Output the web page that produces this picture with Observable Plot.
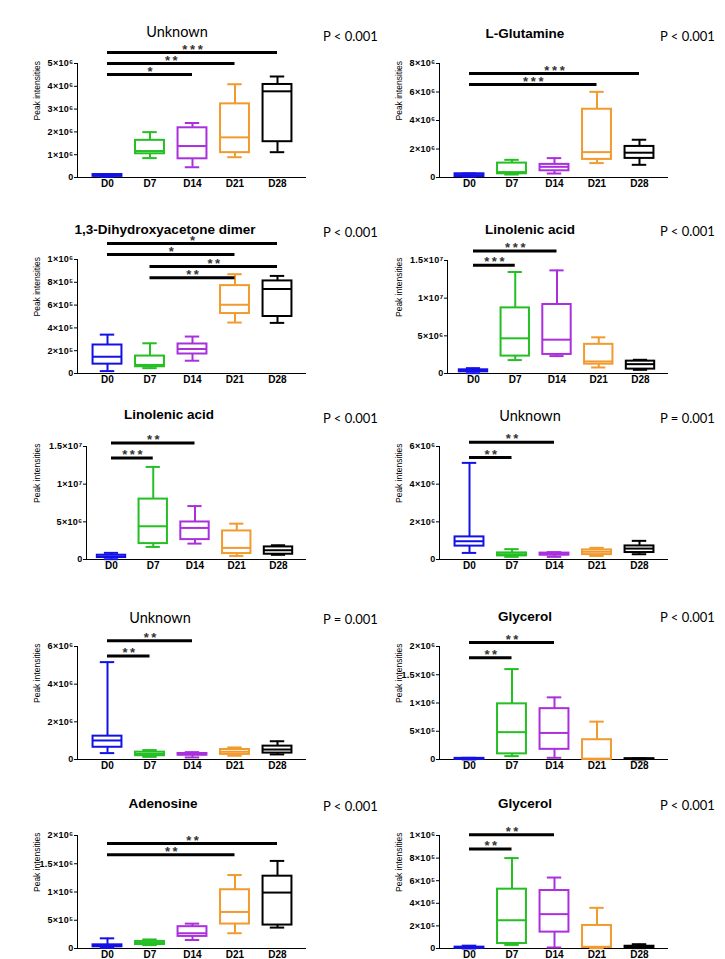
<!DOCTYPE html>
<html><head><meta charset="utf-8">
<script src="https://cdn.jsdelivr.net/npm/d3@7"></script>
<script src="https://cdn.jsdelivr.net/npm/@observablehq/plot@0.6"></script>
<style>
body{margin:0;background:#fff;}
#page{position:relative;width:725px;height:959px;overflow:hidden;background:#fff;}
#page svg{position:absolute;overflow:visible;}
.t{position:absolute;transform:translate(-50%,-50%);white-space:nowrap;color:#000;}
.bold{font-family:"Liberation Sans",Arial,sans-serif;font-weight:bold;font-size:13.5px;}
.reg{font-family:Lato,"Open Sans",sans-serif;font-size:14.5px;}
.p{position:absolute;transform:translate(0,-50%);font-family:Lato,"Open Sans",sans-serif;font-size:13px;white-space:nowrap;color:#000;}
#page svg [aria-label^="x-axis"] text{font-size:10px;font-weight:bold;}
#page svg [aria-label^="y-axis"] text{font-size:9px;font-weight:bold;letter-spacing:0.3px;}
</style>
</head><body><div id="page"></div>
<script>
const days = ["D0","D7","D14","D21","D28"];
const dayColors = ["#1212e6","#23bf23","#a930dc","#f29a2e","#000000"];
const titles = ["Unknown","L-Glutamine","1,3-Dihydroxyacetone dimer","Linolenic acid","Linolenic acid","Unknown","Unknown","Glycerol","Adenosine","Glycerol"];
const pValues = ["P < 0.001","P < 0.001","P < 0.001","P < 0.001","P < 0.001","P = 0.001","P = 0.001","P < 0.001","P < 0.001","P < 0.001"];
const yLabel = "Peak intensities";

// per day: [min, q1, median, q3, max]
const stats1 = [[0.03e6,0.05e6,0.09e6,0.13e6,0.15e6],[0.85e6,1.04e6,1.16e6,1.63e6,1.99e6],[0.45e6,0.82e6,1.38e6,2.18e6,2.39e6],[0.89e6,1.09e6,1.76e6,3.23e6,4.09e6],[1.11e6,1.57e6,3.78e6,4.08e6,4.43e6]];
const stats2 = [[0.05e6,0.07e6,0.17e6,0.26e6,0.28e6],[0.21e6,0.26e6,0.38e6,1.01e6,1.24e6],[0.28e6,0.47e6,0.75e6,0.92e6,1.36e6],[1.01e6,1.27e6,1.78e6,4.79e6,6.01e6],[0.89e6,1.34e6,1.74e6,2.18e6,2.65e6]];
const stats3 = [[0.21e5,0.82e5,1.47e5,2.5e5,3.41e5],[0.47e5,0.59e5,0.75e5,1.53e5,2.65e5],[1.12e5,1.71e5,2.15e5,2.59e5,3.24e5],[4.47e5,5.26e5,6.03e5,7.71e5,8.71e5],[4.44e5,5.0e5,7.41e5,8.12e5,8.56e5]];
const stats4 = [[0.04e6,0.22e6,0.36e6,0.49e6,0.71e6],[1.78e6,2.31e6,4.67e6,8.71e6,13.47e6],[2.31e6,2.53e6,4.49e6,9.16e6,13.69e6],[0.8e6,1.24e6,1.6e6,3.87e6,4.8e6],[0.49e6,0.58e6,1.24e6,1.64e6,1.82e6]];
const stats5 = [[0.04e6,0.26e6,0.40e6,0.57e6,0.88e6],[1.67e6,2.11e6,4.41e6,8.02e6,12.29e6],[2.11e6,2.64e6,4.19e6,4.98e6,7.09e6],[0.48e6,0.79e6,1.54e6,3.79e6,4.76e6],[0.62e6,0.70e6,1.23e6,1.67e6,1.89e6]];
const stats6 = [[0.35e6,0.71e6,0.97e6,1.2e6,5.13e6],[0.14e6,0.19e6,0.28e6,0.35e6,0.55e6],[0.14e6,0.23e6,0.28e6,0.34e6,0.39e6],[0.19e6,0.26e6,0.41e6,0.51e6,0.62e6],[0.28e6,0.37e6,0.58e6,0.72e6,0.99e6]];
const stats7 = [[0.34e6,0.65e6,1.01e6,1.24e6,5.17e6],[0.14e6,0.2e6,0.3e6,0.39e6,0.5e6],[0.11e6,0.23e6,0.27e6,0.32e6,0.39e6],[0.2e6,0.27e6,0.41e6,0.53e6,0.64e6],[0.27e6,0.34e6,0.53e6,0.71e6,0.97e6]];
const stats8 = [[0,0.005e6,0.01e6,0.02e6,0.03e6],[0.06e6,0.1e6,0.484e6,0.985e6,1.6e6],[0.03e6,0.18e6,0.47e6,0.9e6,1.1e6],[0,0.005e6,0.01e6,0.35e6,0.67e6],[0,0.005e6,0.01e6,0.015e6,0.02e6]];
const stats9 = [[0.01e6,0.03e6,0.05e6,0.065e6,0.18e6],[0.06e6,0.07e6,0.1e6,0.125e6,0.16e6],[0.15e6,0.214e6,0.27e6,0.386e6,0.44e6],[0.27e6,0.433e6,0.647e6,1.04e6,1.3e6],[0.37e6,0.415e6,0.99e6,1.28e6,1.55e6]];
const stats10 = [[0,0.003e6,0.007e6,0.012e6,0.025e6],[0.032e6,0.044e6,0.25e6,0.525e6,0.8e6],[0.009e6,0.145e6,0.304e6,0.513e6,0.628e6],[0.003e6,0.009e6,0.015e6,0.204e6,0.36e6],[0.003e6,0.006e6,0.012e6,0.02e6,0.038e6]];

const ticks1 = [0,1e6,2e6,3e6,4e6,5e6];
const ticks2 = [0,2e6,4e6,6e6,8e6];
const ticks3 = [0,2e5,4e5,6e5,8e5,1e6];
const ticks4 = [0,5e6,1e7,1.5e7];
const ticks6 = [0,2e6,4e6,6e6];
const ticks8 = [0,5e5,1e6,1.5e6,2e6];

// significance bars: [from, to, height, stars]
const sig1 = [["D0","D14",4.52e6,"*"],["D0","D21",5.0e6,"**"],["D0","D28",5.48e6,"***"]];
const sig2 = [["D0","D21",6.53e6,"***"],["D0","D28",7.3e6,"***"]];
const sig3 = [["D7","D21",8.41e5,"**"],["D7","D28",9.38e5,"**"],["D0","D21",10.44e5,"*"],["D0","D28",11.41e5,"*"]];
const sig4 = [["D0","D7",14.36e6,"***"],["D0","D14",16.27e6,"***"]];
const sig5 = [["D0","D7",13.48e6,"***"],["D0","D14",15.46e6,"**"]];
const sig6 = [["D0","D7",5.41e6,"**"],["D0","D14",6.23e6,"**"]];
const sig7 = [["D0","D7",5.5e6,"**"],["D0","D14",6.3e6,"**"]];
const sig8 = [["D0","D7",1.8e6,"**"],["D0","D14",2.07e6,"**"]];
const sig9 = [["D0","D21",1.66e6,"**"],["D0","D28",1.86e6,"**"]];
const sig10 = [["D0","D7",0.88e6,"**"],["D0","D14",1.006e6,"**"]];

const panelStats = [stats1,stats2,stats3,stats4,stats5,stats6,stats7,stats8,stats9,stats10];
const panelTicks = [ticks1,ticks2,ticks3,ticks4,ticks4,ticks6,ticks6,ticks8,ticks8,ticks3];
const panelSig = [sig1,sig2,sig3,sig4,sig5,sig6,sig7,sig8,sig9,sig10];

// layout (positions only)
const layout = [
  {col:0, top:63,  bottom:177, ml:77, tx:177, ty:31,  reg:true,  py:36},
  {col:1, top:63,  bottom:177, ml:77, tx:525, ty:33,  reg:false, py:36},
  {col:0, top:259, bottom:373, ml:77, tx:165, ty:229, reg:false, py:232},
  {col:1, top:260, bottom:373, ml:85, tx:530, ty:229, reg:false, py:231},
  {col:0, top:446, bottom:559, ml:86, tx:169, ty:414, reg:false, py:418},
  {col:1, top:446, bottom:559, ml:77, tx:530, ty:415, reg:true,  py:418},
  {col:0, top:646, bottom:759, ml:77, tx:160, ty:617, reg:true,  py:619},
  {col:1, top:646, bottom:759, ml:77, tx:525, ty:616, reg:false, py:617},
  {col:0, top:835, bottom:948, ml:77, tx:163, ty:803, reg:false, py:806},
  {col:1, top:835, bottom:948, ml:77, tx:525, ty:803, reg:false, py:805},
];

const SUP = {"0":"⁰","1":"¹","2":"²","3":"³","4":"⁴","5":"⁵","6":"⁶","7":"⁷","8":"⁸","9":"⁹"};
function sci(v){
  if (v === 0) return "0";
  const e = Math.floor(Math.log10(v) + 1e-9);
  const m = +(v / Math.pow(10, e)).toFixed(2);
  return `${m}×10${String(e).split("").map(c => SUP[c]).join("")}`;
}

const page = document.getElementById("page");
const MT = 40, MB = 20, W = 362, AXIS_END = 305;
const BOX = 0.34, CAP = 0.17;

layout.forEach((L, k) => {
  const stats = panelStats[k], ticks = panelTicks[k], sig = panelSig[k];
  const rows = stats.map((s, i) => ({i, min:s[0], q1:s[1], med:s[2], q3:s[3], max:s[4], color: dayColors[i]}));
  const bars = sig.map(([a, b, y, lab]) => ({a: days.indexOf(a), b: days.indexOf(b), y, lab: lab.split("").join("\u2009")}));
  const d0 = L.ml === 77 ? 107 : 111;
  const sp = L.ml === 77 ? 42.5 : 41.75;
  const h = L.bottom - L.top;
  const chart = Plot.plot({
    width: W, height: MT + h + MB,
    marginLeft: L.ml, marginRight: W - AXIS_END, marginTop: MT, marginBottom: MB,
    style: {fontFamily: "'Liberation Sans', Arial, sans-serif", background: "transparent", overflow: "visible", color: "#000"},
    x: {domain: [-(d0 - L.ml) / sp, (AXIS_END - d0) / sp], ticks: [0,1,2,3,4], tickFormat: i => days[i], tickSize: 0, tickPadding: 2, line: true, label: null},
    y: {domain: [0, ticks[ticks.length - 1]], ticks, tickFormat: sci, tickSize: 3, tickPadding: 1, line: true, label: null},
    marks: [
      Plot.ruleX(rows, {x: "i", y1: "min", y2: "max", stroke: "color", strokeWidth: 2}),
      Plot.rect(rows, {x1: d => d.i - BOX, x2: d => d.i + BOX, y1: "q1", y2: "q3", fill: "white", stroke: "color", strokeWidth: 2}),
      Plot.ruleY(rows, {x1: d => d.i - BOX, x2: d => d.i + BOX, y: "med", stroke: "color", strokeWidth: 2}),
      Plot.ruleY(rows, {x1: d => d.i - CAP, x2: d => d.i + CAP, y: "min", stroke: "color", strokeWidth: 2}),
      Plot.ruleY(rows, {x1: d => d.i - CAP, x2: d => d.i + CAP, y: "max", stroke: "color", strokeWidth: 2}),
      Plot.ruleY(bars, {x1: "a", x2: "b", y: "y", stroke: "#000", strokeWidth: 3}),
      Plot.text(bars, {x: d => (d.a + d.b) / 2, y: "y", text: "lab", dy: -3, fontSize: 13, fontWeight: "bold", fill: "#333", lineAnchor: "middle"}),
      Plot.text([yLabel], {text: d => d, frameAnchor: "left", dx: 37 - L.ml, rotate: -90, fontSize: 8.5, fontFamily: "'Liberation Sans Narrow', 'Liberation Sans', Arial, sans-serif", fill: "#000"})
    ]
  });
  chart.style.left = (L.col * W) + "px";
  chart.style.top = (L.top - MT) + "px";
  page.appendChild(chart);

  const t = document.createElement("div");
  t.className = "t " + (L.reg ? "reg" : "bold");
  t.style.left = L.tx + "px"; t.style.top = L.ty + "px";
  t.textContent = titles[k];
  page.appendChild(t);

  const p = document.createElement("div");
  p.className = "p";
  p.style.left = (L.col === 0 ? 323 : 660) + "px"; p.style.top = L.py + "px";
  p.textContent = pValues[k];
  page.appendChild(p);
});
</script>
</body></html>
